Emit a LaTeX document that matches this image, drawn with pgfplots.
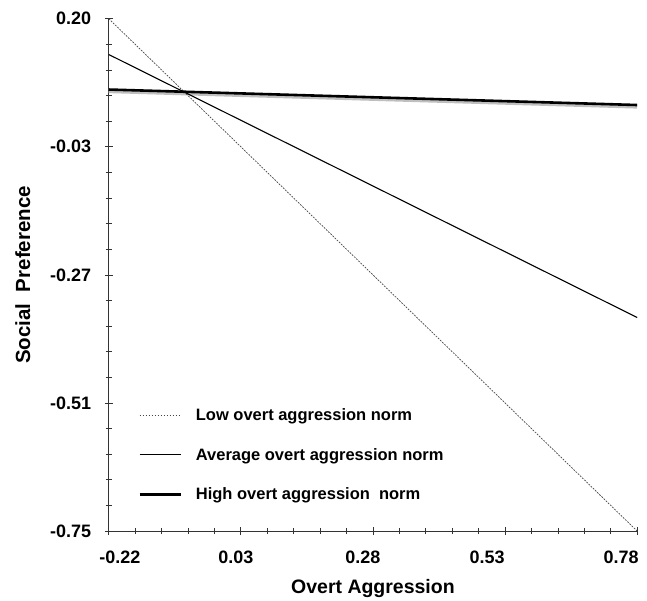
\documentclass[border={12bp 0bp 5bp 9bp}]{standalone}
\usepackage{fontspec}
\setmainfont{Liberation Sans}
\usepackage{pgfplots}
\pgfplotsset{compat=1.18}
\begin{document}
\begin{tikzpicture}
\begin{axis}[
  scale only axis,
  width=527bp, height=511bp,
  axis lines=left,
  axis line style={-, line width=0.8pt, black!80},
  xmin=-0.22, xmax=0.78,
  ymin=-0.75, ymax=0.20,
  xtick={-0.22,0.03,0.28,0.53,0.78},
  xticklabels={-0.22,0.03,0.28,0.53,0.78},
  ytick={-0.75,-0.5125,-0.275,-0.0375,0.20},
  yticklabels={-0.75,-0.51,-0.27,-0.03,0.20},
  minor tick num=4,
  tick align=center,
  major tick length=8pt,
  minor tick length=6pt,
  tick style={line width=0.8pt, black!80},
  ticklabel style={font=\bfseries\fontsize{18}{20}\selectfont},
  xticklabel style={yshift=-12pt, xshift={{11,-5,-10,-18,-16}[\ticknum]*1bp}},
  yticklabel style={xshift=-10pt},
  xlabel={Overt Aggression},
  ylabel={Social\ \ Preference},
  xlabel style={font=\bfseries\fontsize{19.5}{22}\selectfont, yshift=-9pt},
  ylabel style={font=\bfseries\fontsize{20.5}{22}\selectfont, yshift=13pt},
  clip=false,
  legend style={at={(0.05,0.247)}, anchor=north west, draw=none, fill=none,
    font=\bfseries\fontsize{16.5}{19}\selectfont, row sep=22pt},
  legend cell align=left,
  legend image code/.code={\draw[#1] (0pt,0pt) -- (41pt,0pt);},
]
% shadow under the thick line
\addplot[forget plot, line width=4pt, black!25, yshift=-1.6pt] coordinates {(-0.22,0.0687) (0.78,0.040)};
\addplot[gray!55!black, line width=0.7pt, dash pattern=on 1.8pt off 1.2pt] coordinates {(-0.22,0.20) (0.78,-0.75)};
\addplot[black, line width=1.1pt] coordinates {(-0.22,0.1336) (0.78,-0.354)};
\addplot[black, line width=2.6pt] coordinates {(-0.22,0.0687) (0.78,0.040)};
\legend{\hspace*{12pt}Low overt aggression norm, \hspace*{12pt}Average overt aggression norm, \hspace*{12pt}High overt aggression\ \ norm}
\end{axis}
\end{tikzpicture}
\end{document}
